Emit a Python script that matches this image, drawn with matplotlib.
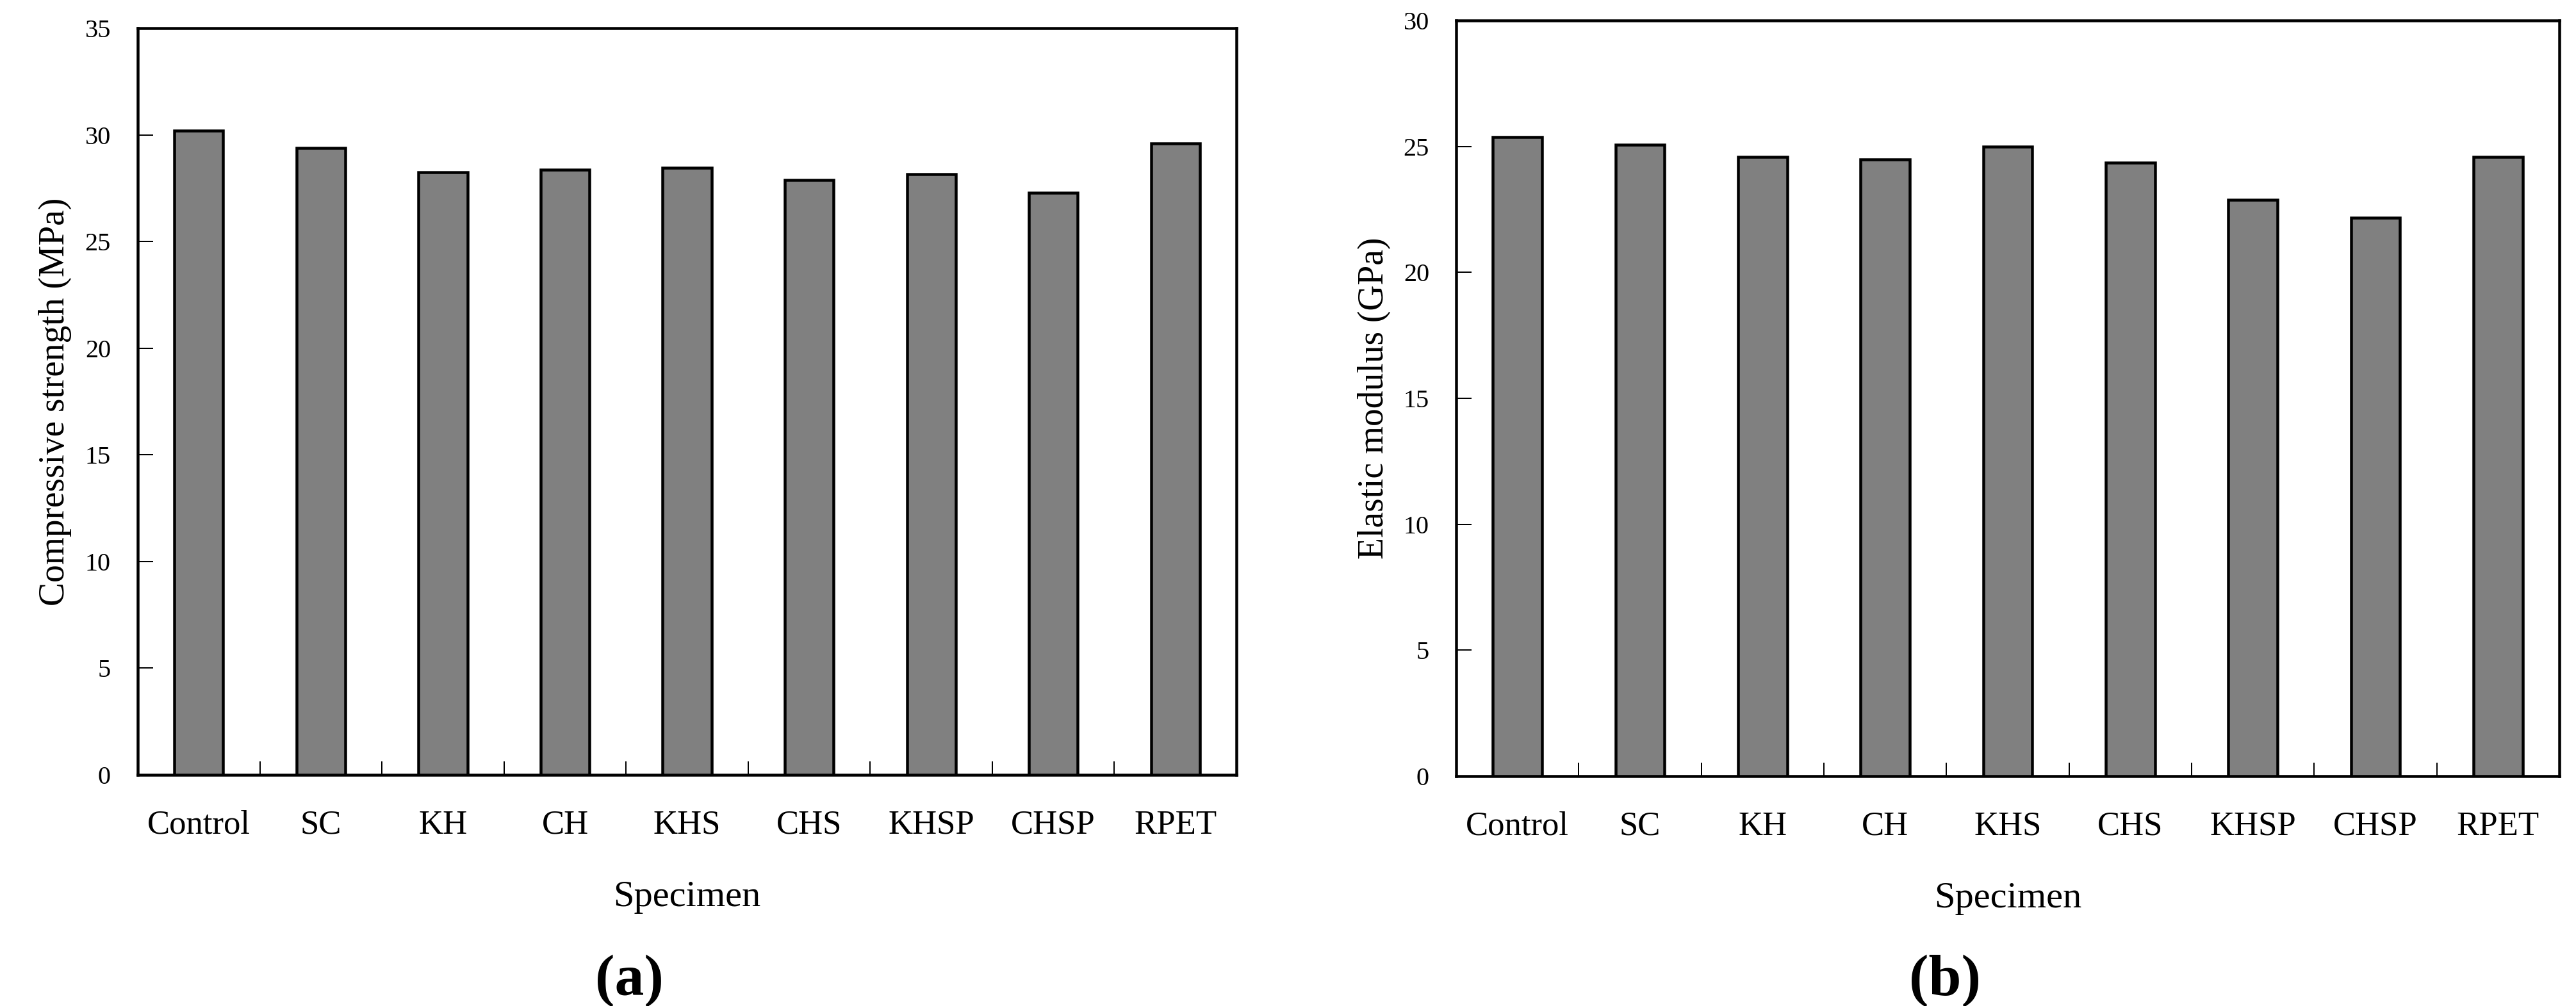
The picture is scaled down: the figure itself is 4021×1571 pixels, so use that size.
import numpy as np
import matplotlib
matplotlib.use('Agg')
import matplotlib.pyplot as plt

# data
specimens = ['Control', 'SC', 'KH', 'CH', 'KHS', 'CHS', 'KHSP', 'CHSP', 'RPET']
compressive = [30.2, 29.4, 28.25, 28.37, 28.46, 27.9, 28.16, 27.3, 29.6]
elastic = [25.37, 25.07, 24.59, 24.48, 24.99, 24.36, 22.88, 22.17, 24.59]

plt.rcParams['font.family'] = ['Liberation Serif', 'DejaVu Serif']

PX = 72.0 / 100  # points per pixel at dpi 100


def draw_panel(ax, values, ylabel, ymax, tag, tag_x):
    x = np.arange(len(specimens))
    ax.bar(x, values, width=0.4, color='#808080', edgecolor='black',
           linewidth=4.5 * PX, zorder=3)
    ax.set_xlim(-0.5, len(specimens) - 0.5)
    ax.set_ylim(0, ymax)
    ax.set_yticks(np.arange(0, ymax + 1, 5))
    ax.set_xticks(x)
    ax.set_xticklabels(specimens, fontsize=38)
    ax.set_xticks(x[:-1] + 0.5, minor=True)
    ax.tick_params(axis='x', which='major', length=0, pad=55 * PX)
    ax.tick_params(axis='x', which='minor', direction='in', length=15,
                   width=2 * PX)
    ax.tick_params(axis='y', direction='in', length=17, width=2 * PX,
                   labelsize=29, pad=42 * PX)
    for sp in ax.spines.values():
        sp.set_linewidth(4.5 * PX)
    ax.set_xlabel('Specimen', fontsize=42, labelpad=62 * PX)
    ax.set_ylabel(ylabel, fontsize=40, labelpad=20 * PX)
    fig.text(tag_x, 1 - 1532 / 1571, tag, fontsize=66, fontweight='bold',
             ha='center', va='center')


fig = plt.figure(figsize=(40.21, 15.71), dpi=100)
ax1 = fig.add_axes([215 / 4021, 1 - 1210 / 1571, 1715 / 4021, 1166 / 1571])
ax2 = fig.add_axes([2273 / 4021, 1 - 1212 / 1571, 1722 / 4021, 1180 / 1571])

draw_panel(ax1, compressive, 'Compressive strength (MPa)', 35, '(a)', 982 / 4021)
draw_panel(ax2, elastic, 'Elastic modulus (GPa)', 30, '(b)', 3036 / 4021)

fig.savefig('out.png', dpi=100)
